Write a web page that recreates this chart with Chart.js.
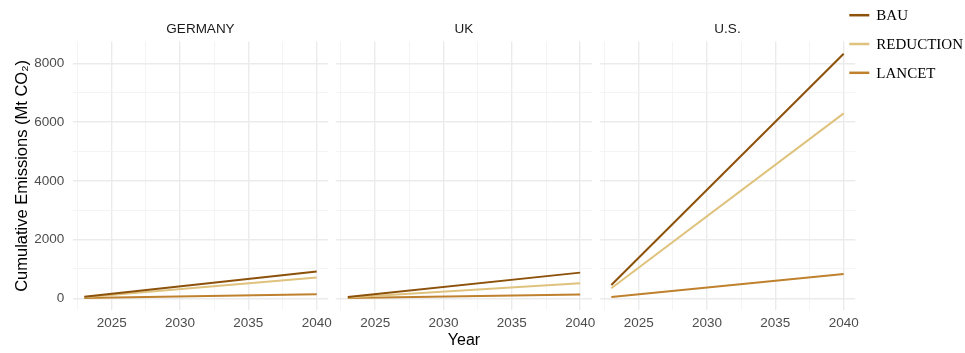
<!DOCTYPE html>
<html>
<head>
<meta charset="utf-8">
<script src="https://cdn.jsdelivr.net/npm/chart.js@4.4.1/dist/chart.umd.min.js"></script>
<style>
  html, body { margin: 0; padding: 0; background: #ffffff; overflow: hidden; }
  #wrap { position: relative; width: 965px; height: 353px; }
  #wrap canvas { position: absolute; left: 0; top: 0; }
</style>
</head>
<body>
<div id="wrap">
  <canvas id="panel0" width="965" height="353" style="width:965px;height:353px"></canvas>
  <canvas id="panel1" width="965" height="353" style="width:965px;height:353px"></canvas>
  <canvas id="panel2" width="965" height="353" style="width:965px;height:353px"></canvas>
</div>
<script>
// ---- data -------------------------------------------------------------
const years = [2023, 2040];
const countries = ['GERMANY', 'UK', 'U.S.'];
const scenarios = ['BAU', 'REDUCTION', 'LANCET'];

// cumulative emissions, Mt CO2, at the first and last year
const germanyBAU       = [50, 910];
const germanyReduction = [40, 705];
const germanyLancet    = [8, 140];

const ukBAU       = [48, 875];
const ukReduction = [30, 510];
const ukLancet    = [8, 130];

const usBAU       = [455, 8330];
const usReduction = [345, 6300];
const usLancet    = [45, 830];

const xTicks = [2025, 2030, 2035, 2040];
const yTicks = [0, 2000, 4000, 6000, 8000];

// ---- styling ----------------------------------------------------------
const scenarioColors = { BAU: '#8c510a', REDUCTION: '#dfc27d', LANCET: '#bf812d' };
const SANS = '"Liberation Sans", Arial, sans-serif';
const SERIF = '"Liberation Serif", "Times New Roman", serif';
Chart.defaults.font.family = SANS;

const seriesByCountry = [
  [germanyBAU, germanyReduction, germanyLancet],
  [ukBAU, ukReduction, ukLancet],
  [usBAU, usReduction, usLancet]
];

// shared ranges with 5% breathing room on each side
const allValues = seriesByCountry.flat(2);
const yLo = Math.min(...allValues), yHi = Math.max(...allValues);
const yPad = 0.05 * (yHi - yLo);
const yMin = yLo - yPad, yMax = yHi + yPad;
const xPad = 0.05 * (years[years.length - 1] - years[0]);
const xMin = years[0] - xPad, xMax = years[years.length - 1] + xPad;

// minor grid lines sit halfway between majors
const xStep = xTicks[1] - xTicks[0];
const yStep = yTicks[1] - yTicks[0];
const xGrid = xTicks.flatMap(v => [v - xStep / 2, v]).filter(v => v >= xMin && v <= xMax);
const yGrid = yTicks.flatMap(v => [v - yStep / 2, v, v + yStep / 2])
  .filter((v, i, a) => a.indexOf(v) === i && v >= yMin && v <= yMax).sort((a, b) => a - b);

const W = 965;
const panelLeft = [72.7, 336.2, 599.7];
const panelWidth = 255.6;
const plotTop = 41.5, plotBottom = 310.3;

const majorGrid = '#ebebeb', minorGrid = '#f3f3f3';

// legend drawn beside the last panel
const scenarioLegend = {
  id: 'scenarioLegend',
  afterDraw(chart, args, opts) {
    const { ctx, chartArea } = chart;
    ctx.save();
    chart.data.datasets.forEach((ds, k) => {
      const y = opts.top + k * opts.spacing;
      ctx.strokeStyle = ds.borderColor;
      ctx.lineWidth = 2.5;
      ctx.beginPath();
      ctx.moveTo(chartArea.right + opts.lineStart, y);
      ctx.lineTo(chartArea.right + opts.lineStart + opts.lineLength, y);
      ctx.stroke();
      ctx.fillStyle = '#000000';
      ctx.font = '15px ' + SERIF;
      ctx.textBaseline = 'middle';
      ctx.textAlign = 'left';
      ctx.fillText(ds.label, chartArea.right + opts.textStart, y + 1);
    });
    ctx.restore();
  }
};

function makeDatasets(i) {
  return scenarios.map((name, k) => ({
    label: name,
    data: years.map((yr, j) => ({ x: yr, y: seriesByCountry[i][k][j] })),
    borderColor: scenarioColors[name],
    backgroundColor: scenarioColors[name],
    borderWidth: 2,
    pointRadius: 0,
    tension: 0,
    fill: false
  }));
}

function makeOptions(i) {
  const first = i === 0;
  const gridColor = c => (c.tick && (c.tick.value % (c.scale.axis === 'x' ? xStep : yStep) === 0)) ? majorGrid : minorGrid;
  const gridWidth = c => (c.tick && (c.tick.value % (c.scale.axis === 'x' ? xStep : yStep) === 0)) ? 1.4 : 0.9;
  return {
    responsive: false,
    animation: false,
    events: [],
    layout: {
      padding: {
        left: first ? 0 : panelLeft[i],
        right: W - (panelLeft[i] + panelWidth),
        top: 20.9,
        bottom: 0
      }
    },
    plugins: {
      legend: { display: false },
      tooltip: { enabled: false },
      title: {
        display: true,
        text: countries[i],
        fullSize: false,
        position: 'top',
        align: 'center',
        color: '#1a1a1a',
        font: { family: SANS, size: 13.5, weight: 'normal' },
        padding: { top: 0, bottom: 4.4 }
      },
      scenarioLegend: { top: 15.2, spacing: 28.8, lineStart: -6, lineLength: 20, textStart: 21 }
    },
    scales: {
      x: {
        type: 'linear',
        min: xMin,
        max: xMax,
        afterFit: s => { s.height = 353 - plotBottom; },
        afterBuildTicks: s => { s.ticks = xGrid.map(v => ({ value: v })); },
        border: { display: false },
        grid: { drawTicks: false, color: gridColor, lineWidth: gridWidth },
        ticks: {
          autoSkip: false,
          maxRotation: 0,
          padding: 5,
          color: '#4d4d4d',
          font: { family: SANS, size: 13.5 },
          callback: v => xTicks.includes(v) ? String(v) : ''
        },
        title: {
          display: i === 1,
          text: 'Year',
          color: '#000000',
          font: { family: SANS, size: 16 },
          padding: { top: 0, bottom: 2.4 }
        }
      },
      y: {
        type: 'linear',
        min: yMin,
        max: yMax,
        afterFit: s => { s.width = first ? panelLeft[0] : 0; },
        afterBuildTicks: s => { s.ticks = yGrid.map(v => ({ value: v })); },
        border: { display: false },
        grid: { drawTicks: false, color: gridColor, lineWidth: gridWidth },
        ticks: {
          display: first,
          autoSkip: false,
          padding: 8.4,
          color: '#4d4d4d',
          font: { family: SANS, size: 13.5 },
          callback: v => yTicks.includes(v) ? String(v) : ''
        },
        title: {
          display: first,
          text: 'Cumulative Emissions (Mt CO\u2082)',
          color: '#000000',
          font: { family: SANS, size: 16.5 },
          padding: { top: 13, bottom: 0 }
        }
      }
    }
  };
}

countries.forEach((name, i) => {
  new Chart(document.getElementById('panel' + i), {
    type: 'line',
    data: { datasets: makeDatasets(i) },
    options: makeOptions(i),
    plugins: i === 2 ? [scenarioLegend] : []
  });
});
</script>
</body>
</html>
